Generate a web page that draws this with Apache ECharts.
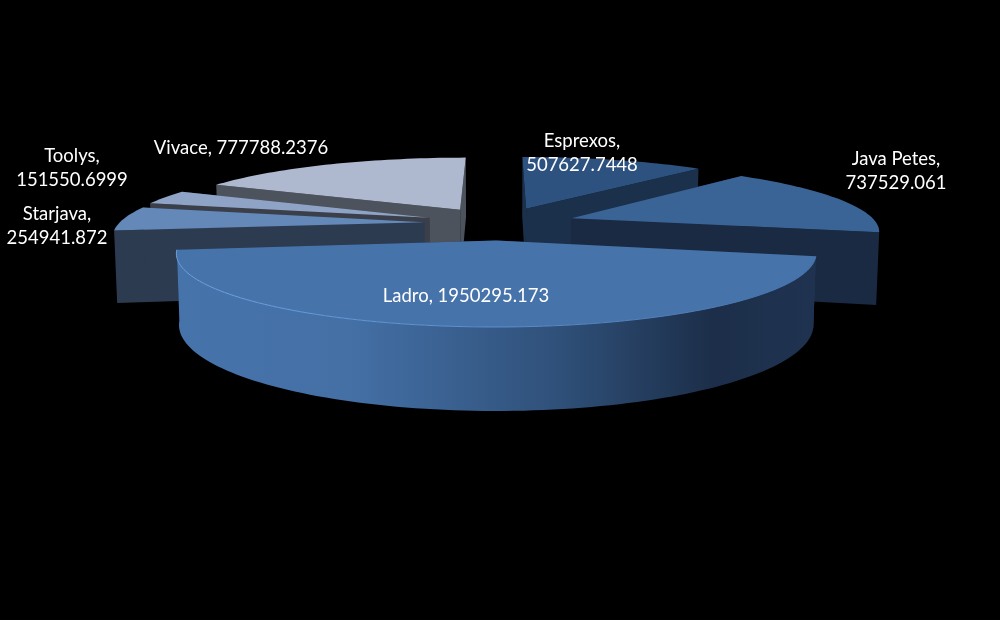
<!DOCTYPE html>
<html>
<head>
<meta charset="utf-8">
<script src="https://cdn.jsdelivr.net/npm/echarts@6/dist/echarts.min.js"></script>
<style>html,body{margin:0;padding:0;background:#000}#c{width:1000px;height:620px}</style>
</head>
<body>
<div id="c"></div>
<script>
// Data (clockwise from 12 o'clock)
var categories = ['Esprexos', 'Java Petes', 'Ladro', 'Starjava', 'Toolys', 'Vivace'];
var values = [507627.7448, 737529.061, 1950295.173, 254941.872, 151550.6999, 777788.2376];
var valueLabels = ['507627.7448', '737529.061', '1950295.173', '254941.872', '151550.6999', '777788.2376'];

// Styling
var topColors = ['#2e5280', '#3a6496', '#4673aa', '#6488b8', '#8fa3c6', '#aeb9d0'];
var cutColors = ['#1b304b', '#1a2a42', '#1f3350', '#2d3b50', '#3a3f4a', '#4d535c'];
var frontWallStops = [[0, '#4673aa'], [0.27, '#4470a6'], [0.6, '#2f5079'], [0.84, '#1c2e49'], [1, '#1f3351']];
var rimStops = [[0, '#6ea4e2'], [0.5, '#5c8fce'], [1, '#4673aa']];
var paintRank = [0, 3, 5, 4, 2, 1];
var labelLines = [
  [categories[0] + ',', valueLabels[0]],
  [categories[1] + ',', valueLabels[1]],
  [categories[2] + ', ' + valueLabels[2]],
  [categories[3] + ',', valueLabels[3]],
  [categories[4] + ',', valueLabels[4]],
  [categories[5] + ', ' + valueLabels[5]]
];
var labelCenters = [[582, 153], [896, 171], [466, 296], [57, 226], [72, 168], [241, 148]];

// Projection of the exploded pie onto the screen
var CX = 500, HORIZON = -159, PLANE = 382, PERSP = 0.000546, RZ = 312, STEP = 1.5, TAPER = 0.992;
var radiusX = [307, 305, 301, 305, 306, 305];
var explode = [76, 76, 80, 76, 76, 78];
var depth = [71, 71, 66, 71, 71, 71];

function project(x, z, down) {
  var s = 1 / (1 + PERSP * z);
  return [CX + x * s * (down ? TAPER : 1), HORIZON + (PLANE + down) * s];
}
function gradient(stops) {
  return { type: 'linear', x: 0, y: 0, x2: 1, y2: 0,
    colorStops: stops.map(function (p) { return { offset: p[0], color: p[1] }; }) };
}

var total = values.reduce(function (a, b) { return a + b; }, 0);
var starts = [];
values.reduce(function (acc, v, i) { starts[i] = acc; return acc + v; }, 0);

function renderSlice(params, api) {
  var i = params.dataIndex;
  var a0 = starts[i] / total * Math.PI * 2;
  var a1 = (starts[i] + values[i]) / total * Math.PI * 2;
  var mid = (a0 + a1) / 2;
  var ox = Math.sin(mid) * explode[i], oz = Math.cos(mid) * explode[i];
  var n = Math.max(2, Math.ceil((a1 - a0) * 180 / Math.PI / STEP));
  var topArc = [], botArc = [];
  for (var k = 0; k <= n; k++) {
    var a = a0 + (a1 - a0) * k / n;
    var x = ox + Math.sin(a) * radiusX[i], z = oz + Math.cos(a) * RZ;
    topArc.push(project(x, z, 0));
    botArc.push(project(x, z, depth[i]));
  }
  var apexT = project(ox, oz, 0), apexB = project(ox, oz, depth[i]);
  var base = paintRank[i] * 10;
  var children = [
    { type: 'polygon', z2: base + 1, shape: { points: [apexT, topArc[0], botArc[0], apexB] },
      style: { fill: cutColors[i] } },
    { type: 'polygon', z2: base + 2, shape: { points: [apexT, topArc[n], botArc[n], apexB] },
      style: { fill: cutColors[i] } }
  ];
  // Only the slice that spans the front of the pie shows its curved outer wall.
  if (a0 < Math.PI && a1 > Math.PI) {
    children.push({ type: 'polygon', z2: base + 3,
      shape: { points: topArc.concat(botArc.slice().reverse()) },
      style: { fill: gradient(frontWallStops) } });
    children.push({ type: 'polyline', z2: base + 5, shape: { points: topArc },
      style: { fill: 'none', stroke: gradient(rimStops), lineWidth: 1 } });
  }
  children.push({ type: 'polygon', z2: base + 4, shape: { points: [apexT].concat(topArc) },
    style: { fill: topColors[i] } });
  children.push({ type: 'text', z2: 100, silent: true,
    style: { x: labelCenters[i][0], y: labelCenters[i][1], text: labelLines[i].join('\n'),
      fill: '#ffffff', font: '18.5px Lato', lineHeight: 24.5, align: 'center', verticalAlign: 'middle' } });
  return { type: 'group', children: children };
}

var chart = echarts.init(document.getElementById('c'));
chart.setOption({
  backgroundColor: '#000000',
  animation: false,
  series: [{
    type: 'custom',
    coordinateSystem: 'none',
    clip: false,
    renderItem: renderSlice,
    data: categories.map(function (c, i) { return { name: c, value: values[i] }; })
  }]
});
</script>
</body>
</html>
